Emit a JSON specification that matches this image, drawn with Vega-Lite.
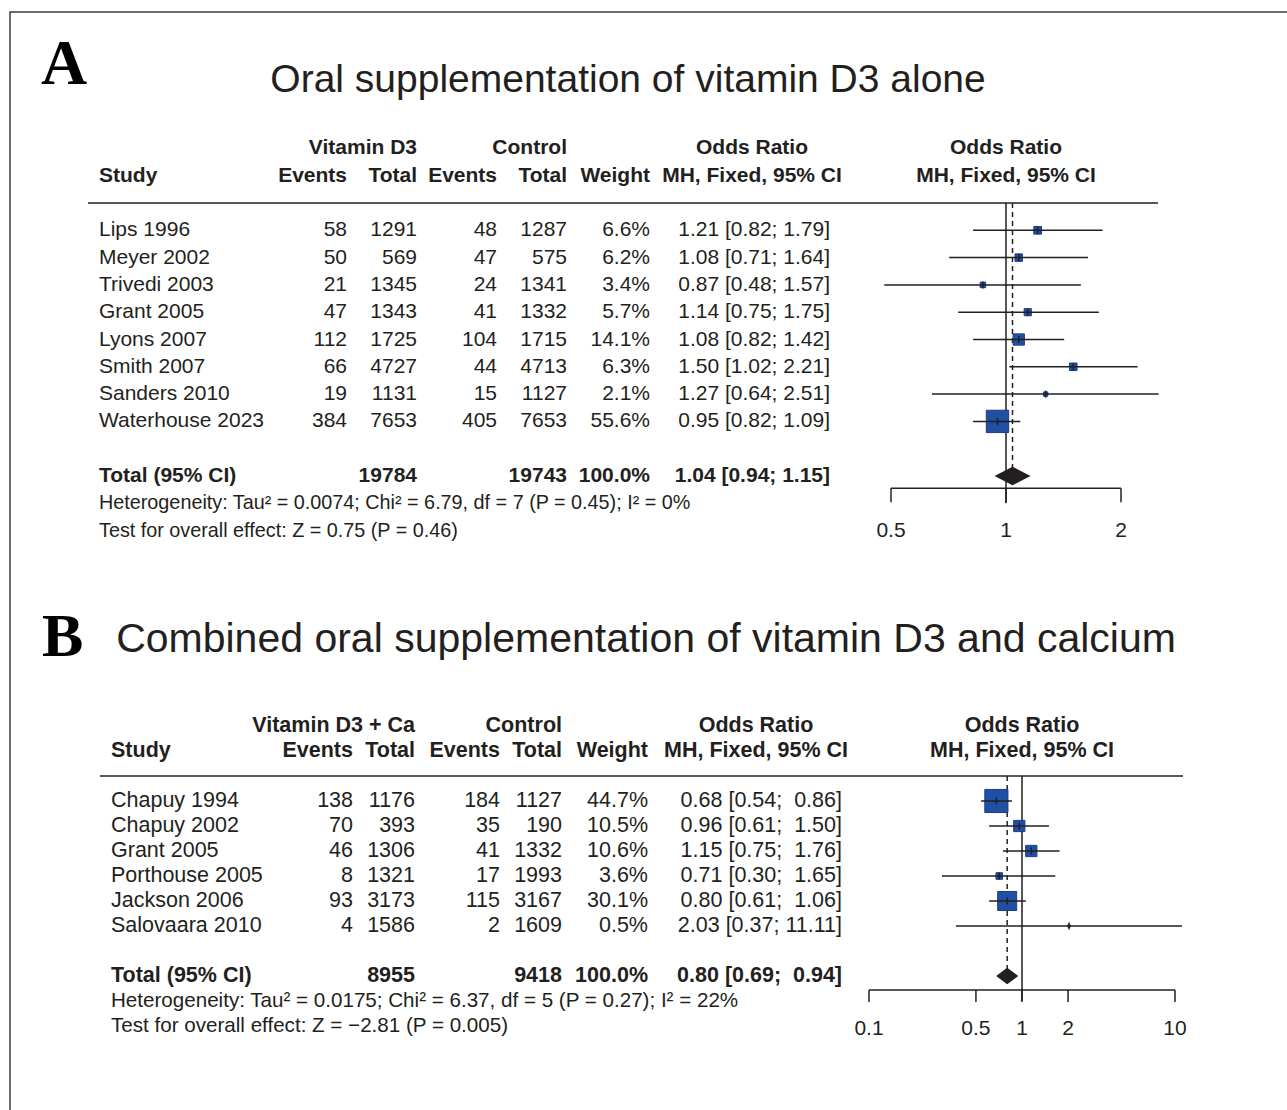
{
"$schema":"https://vega.github.io/schema/vega-lite/v6.json",
"width":1281,"height":1102,"autosize":"none",
"padding":{"left":10,"top":12,"right":-4,"bottom":-4},
"background":"#ffffff",
"config":{"view":{"stroke":"#3c3c3c","strokeWidth":1.5},"text":{"font":"Liberation Sans","color":"#231f20"}},
"datasets":{
"tableA":[
{"row":"h1","type":"group","n1":"Vitamin D3","n2":"Control","orh":"Odds Ratio"},
{"row":"Study","type":"head","e1":"Events","n1":"Total","e2":"Events","n2":"Total","wt":"Weight","orh":"MH, Fixed, 95% CI"},
{"row":"Lips 1996","type":"study","e1":58,"n1":1291,"e2":48,"n2":1287,"wt":"6.6%","ci":"1.21 [0.82; 1.79]","w":6.6,"or":1.21,"lo":0.82,"hi":1.79},
{"row":"Meyer 2002","type":"study","e1":50,"n1":569,"e2":47,"n2":575,"wt":"6.2%","ci":"1.08 [0.71; 1.64]","w":6.2,"or":1.08,"lo":0.71,"hi":1.64},
{"row":"Trivedi 2003","type":"study","e1":21,"n1":1345,"e2":24,"n2":1341,"wt":"3.4%","ci":"0.87 [0.48; 1.57]","w":3.4,"or":0.87,"lo":0.48,"hi":1.57},
{"row":"Grant 2005","type":"study","e1":47,"n1":1343,"e2":41,"n2":1332,"wt":"5.7%","ci":"1.14 [0.75; 1.75]","w":5.7,"or":1.14,"lo":0.75,"hi":1.75},
{"row":"Lyons 2007","type":"study","e1":112,"n1":1725,"e2":104,"n2":1715,"wt":"14.1%","ci":"1.08 [0.82; 1.42]","w":14.1,"or":1.08,"lo":0.82,"hi":1.42},
{"row":"Smith 2007","type":"study","e1":66,"n1":4727,"e2":44,"n2":4713,"wt":"6.3%","ci":"1.50 [1.02; 2.21]","w":6.3,"or":1.5,"lo":1.02,"hi":2.21},
{"row":"Sanders 2010","type":"study","e1":19,"n1":1131,"e2":15,"n2":1127,"wt":"2.1%","ci":"1.27 [0.64; 2.51]","w":2.1,"or":1.27,"lo":0.64,"hi":2.51},
{"row":"Waterhouse 2023","type":"study","e1":384,"n1":7653,"e2":405,"n2":7653,"wt":"55.6%","ci":"0.95 [0.82; 1.09]","w":55.6,"or":0.95,"lo":0.82,"hi":1.09},
{"row":"Total (95% CI)","type":"total","n1":19784,"n2":19743,"wt":"100.0%","ci":"1.04 [0.94; 1.15]","w":100,"or":1.04,"lo":0.94,"hi":1.15}
],
"notesA":[
{"row":"het","text":"Heterogeneity: Tau² = 0.0074; Chi² = 6.79, df = 7 (P = 0.45); I² = 0%"},
{"row":"test","text":"Test for overall effect: Z = 0.75 (P = 0.46)"}
],
"refA":[
{"ref":"no effect","row":"sep","or":1},{"ref":"no effect","row":"het","or":1},
{"ref":"pooled","row":"sep","or":1.04},{"ref":"pooled","row":"Total (95% CI)","or":1.04}
],
"ticksA":[{"v":0.5},{"v":1},{"v":2}],
"titleA":[{"row":"title","letter":"A","title":"Oral supplementation of vitamin D3 alone"}],
"tableB":[
{"row":"h1","type":"group","n1":"Vitamin D3 + Ca","n2":"Control","orh":"Odds Ratio"},
{"row":"Study","type":"head","e1":"Events","n1":"Total","e2":"Events","n2":"Total","wt":"Weight","orh":"MH, Fixed, 95% CI"},
{"row":"Chapuy 1994","type":"study","e1":138,"n1":1176,"e2":184,"n2":1127,"wt":"44.7%","ci":"0.68 [0.54; \u00a00.86]","w":44.7,"or":0.68,"lo":0.54,"hi":0.86},
{"row":"Chapuy 2002","type":"study","e1":70,"n1":393,"e2":35,"n2":190,"wt":"10.5%","ci":"0.96 [0.61; \u00a01.50]","w":10.5,"or":0.96,"lo":0.61,"hi":1.5},
{"row":"Grant 2005","type":"study","e1":46,"n1":1306,"e2":41,"n2":1332,"wt":"10.6%","ci":"1.15 [0.75; \u00a01.76]","w":10.6,"or":1.15,"lo":0.75,"hi":1.76},
{"row":"Porthouse 2005","type":"study","e1":8,"n1":1321,"e2":17,"n2":1993,"wt":"3.6%","ci":"0.71 [0.30; \u00a01.65]","w":3.6,"or":0.71,"lo":0.3,"hi":1.65},
{"row":"Jackson 2006","type":"study","e1":93,"n1":3173,"e2":115,"n2":3167,"wt":"30.1%","ci":"0.80 [0.61; \u00a01.06]","w":30.1,"or":0.8,"lo":0.61,"hi":1.06},
{"row":"Salovaara 2010","type":"study","e1":4,"n1":1586,"e2":2,"n2":1609,"wt":"0.5%","ci":"2.03 [0.37; 11.11]","w":0.5,"or":2.03,"lo":0.37,"hi":11.11},
{"row":"Total (95% CI)","type":"total","n1":8955,"n2":9418,"wt":"100.0%","ci":"0.80 [0.69; \u00a00.94]","w":100,"or":0.8,"lo":0.69,"hi":0.94}
],
"notesB":[
{"row":"het","text":"Heterogeneity: Tau² = 0.0175; Chi² = 6.37, df = 5 (P = 0.27); I² = 22%"},
{"row":"test","text":"Test for overall effect: Z = −2.81 (P = 0.005)"}
],
"refB":[
{"ref":"no effect","row":"sep","or":1},{"ref":"no effect","row":"het","or":1},
{"ref":"pooled","row":"sep","or":0.8},{"ref":"pooled","row":"Total (95% CI)","or":0.8}
],
"ticksB":[{"v":0.1},{"v":0.5},{"v":1},{"v":2},{"v":10}],
"titleB":[{"row":"title","letter":"B","title":"Combined oral supplementation of vitamin D3 and calcium"}]
},
"layer":[
{
"encoding":{"y":{"field":"row","type":"nominal","axis":null,"scale":{"type":"point","padding":0,"range":[81.8,518.6],"domain":["title","gap","h1","Study","sep","Lips 1996","Meyer 2002","Trivedi 2003","Grant 2005","Lyons 2007","Smith 2007","Sanders 2010","Waterhouse 2023","blank","Total (95% CI)","het","test"]}}},
"layer":[
{"layer":[
{"data":{"name":"titleA"},"mark":{"type":"text","align":"left","baseline":"alphabetic","font":"Liberation Serif","fontWeight":"bold","fontSize":64,"dy":-9.8,"color":"#000000"},
 "encoding":{"x":{"datum":31,"type":"quantitative","axis":null,"scale":{"type":"linear","domain":[0,1277],"range":[0,1277],"nice":false,"zero":false}},"text":{"field":"letter","type":"nominal"}}},
{"data":{"name":"titleA"},"mark":{"type":"text","align":"center","baseline":"alphabetic","fontSize":39,"dy":-1.8},
 "encoding":{"x":{"datum":618,"type":"quantitative","axis":null,"scale":{"type":"linear","domain":[0,1277],"range":[0,1277],"nice":false,"zero":false}},"text":{"field":"title","type":"nominal"}}},
{"data":{"name":"tableA"},"transform":[{"filter":"datum.type !== 'group'"}],"mark":{"type":"text","align":"left","baseline":"middle","fontSize":21,"fontWeight":{"expr":"datum.type === 'study' ? 'normal' : 'bold'"}},
 "encoding":{"x":{"datum":89,"type":"quantitative","axis":null,"scale":{"type":"linear","domain":[0,1277],"range":[0,1277],"nice":false,"zero":false}},"text":{"field":"row","type":"nominal"}}},
{"data":{"name":"tableA"},"transform":[{"filter":"isValid(datum.e1)"}],"mark":{"type":"text","align":"right","baseline":"middle","fontSize":21,"fontWeight":{"expr":"datum.type === 'study' ? 'normal' : 'bold'"}},
 "encoding":{"x":{"datum":337,"type":"quantitative","axis":null,"scale":{"type":"linear","domain":[0,1277],"range":[0,1277],"nice":false,"zero":false}},"text":{"field":"e1","type":"nominal"}}},
{"data":{"name":"tableA"},"transform":[{"filter":"isValid(datum.n1)"}],"mark":{"type":"text","align":"right","baseline":"middle","fontSize":21,"fontWeight":{"expr":"datum.type === 'study' ? 'normal' : 'bold'"}},
 "encoding":{"x":{"datum":407,"type":"quantitative","axis":null,"scale":{"type":"linear","domain":[0,1277],"range":[0,1277],"nice":false,"zero":false}},"text":{"field":"n1","type":"nominal"}}},
{"data":{"name":"tableA"},"transform":[{"filter":"isValid(datum.e2)"}],"mark":{"type":"text","align":"right","baseline":"middle","fontSize":21,"fontWeight":{"expr":"datum.type === 'study' ? 'normal' : 'bold'"}},
 "encoding":{"x":{"datum":487,"type":"quantitative","axis":null,"scale":{"type":"linear","domain":[0,1277],"range":[0,1277],"nice":false,"zero":false}},"text":{"field":"e2","type":"nominal"}}},
{"data":{"name":"tableA"},"transform":[{"filter":"isValid(datum.n2)"}],"mark":{"type":"text","align":"right","baseline":"middle","fontSize":21,"fontWeight":{"expr":"datum.type === 'study' ? 'normal' : 'bold'"}},
 "encoding":{"x":{"datum":557,"type":"quantitative","axis":null,"scale":{"type":"linear","domain":[0,1277],"range":[0,1277],"nice":false,"zero":false}},"text":{"field":"n2","type":"nominal"}}},
{"data":{"name":"tableA"},"transform":[{"filter":"isValid(datum.wt)"}],"mark":{"type":"text","align":"right","baseline":"middle","fontSize":21,"fontWeight":{"expr":"datum.type === 'study' ? 'normal' : 'bold'"}},
 "encoding":{"x":{"datum":640,"type":"quantitative","axis":null,"scale":{"type":"linear","domain":[0,1277],"range":[0,1277],"nice":false,"zero":false}},"text":{"field":"wt","type":"nominal"}}},
{"data":{"name":"tableA"},"transform":[{"filter":"isValid(datum.ci)"}],"mark":{"type":"text","align":"right","baseline":"middle","fontSize":21,"fontWeight":{"expr":"datum.type === 'study' ? 'normal' : 'bold'"}},
 "encoding":{"x":{"datum":820,"type":"quantitative","axis":null,"scale":{"type":"linear","domain":[0,1277],"range":[0,1277],"nice":false,"zero":false}},"text":{"field":"ci","type":"nominal"}}},
{"data":{"name":"tableA"},"transform":[{"filter":"isValid(datum.orh)"}],"mark":{"type":"text","align":"center","baseline":"middle","fontSize":21,"fontWeight":"bold"},
 "encoding":{"x":{"datum":742,"type":"quantitative","axis":null,"scale":{"type":"linear","domain":[0,1277],"range":[0,1277],"nice":false,"zero":false}},"text":{"field":"orh","type":"nominal"}}},
{"data":{"name":"notesA"},"mark":{"type":"text","align":"left","baseline":"middle","fontSize":19.8},
 "encoding":{"x":{"datum":89,"type":"quantitative","axis":null,"scale":{"type":"linear","domain":[0,1277],"range":[0,1277],"nice":false,"zero":false}},"text":{"field":"text","type":"nominal"}}},
{"data":{"values":[{}]},"mark":{"type":"rule","color":"#231f20","strokeWidth":1.5},
 "encoding":{"x":{"datum":78,"type":"quantitative","axis":null,"scale":{"type":"linear","domain":[0,1277],"range":[0,1277],"nice":false,"zero":false}},"x2":{"datum":1148},"y":{"datum":"sep","axis":null}}}
]},
{"layer":[
{"data":{"name":"refA"},"mark":{"type":"line","color":"#231f20","strokeWidth":1.5},
 "encoding":{"x":{"field":"or","type":"quantitative","axis":null,"scale":{"type":"log","domain":[0.5,2],"range":[881,1111],"nice":false}},"strokeDash":{"field":"ref","type":"nominal","legend":null,"scale":{"domain":["no effect","pooled"],"range":[[1,0],[5,4]]}}}},
{"data":{"name":"tableA"},"transform":[{"filter":"datum.type === 'study'"}],"mark":{"type":"point","shape":"square","filled":true,"fill":"#1f50a3","stroke":"#1b3d85","strokeWidth":1,"opacity":1},
 "encoding":{"x":{"field":"or","type":"quantitative","axis":null,"scale":{"type":"log","domain":[0.5,2],"range":[881,1111],"nice":false}},"size":{"field":"w","type":"quantitative","legend":null,"scale":{"type":"linear","domain":[0,55.6],"range":[0,500],"zero":true,"nice":false}}}},
{"data":{"name":"tableA"},"transform":[{"filter":"datum.type === 'study'"}],"mark":{"type":"rule","color":"#231f20","strokeWidth":1.5},
 "encoding":{"x":{"field":"lo","type":"quantitative","axis":null,"scale":{"type":"log","domain":[0.5,2],"range":[881,1111],"nice":false}},"x2":{"field":"hi"}}},
{"data":{"name":"tableA"},"transform":[{"filter":"datum.type === 'study'"}],"mark":{"type":"tick","orient":"vertical","size":7,"thickness":1.5,"color":"#231f20","opacity":1},
 "encoding":{"x":{"field":"or","type":"quantitative","axis":null,"scale":{"type":"log","domain":[0.5,2],"range":[881,1111],"nice":false}}}},
{"data":{"name":"tableA"},"transform":[{"filter":"datum.type === 'total'"}],"mark":{"type":"point","shape":"M-1,0L0,-0.51L1,0L0,0.51Z","filled":true,"color":"#231f20","opacity":1,"size":1296},
 "encoding":{"x":{"field":"or","type":"quantitative","axis":null,"scale":{"type":"log","domain":[0.5,2],"range":[881,1111],"nice":false}}}},
{"data":{"name":"ticksA"},"mark":{"type":"rule","color":"#231f20","strokeWidth":1.5,"yOffset":-15},
 "encoding":{"x":{"aggregate":"min","field":"v","type":"quantitative","axis":null,"scale":{"type":"log","domain":[0.5,2],"range":[881,1111],"nice":false}},"x2":{"aggregate":"max","field":"v"},"y":{"datum":"het","axis":null}}},
{"data":{"name":"ticksA"},"mark":{"type":"tick","orient":"vertical","size":14,"thickness":1.5,"color":"#231f20","opacity":1,"yOffset":-8},
 "encoding":{"x":{"field":"v","type":"quantitative","axis":null,"scale":{"type":"log","domain":[0.5,2],"range":[881,1111],"nice":false}},"y":{"datum":"het","axis":null}}},
{"data":{"name":"ticksA"},"mark":{"type":"text","align":"center","baseline":"middle","fontSize":21},
 "encoding":{"x":{"field":"v","type":"quantitative","axis":null,"scale":{"type":"log","domain":[0.5,2],"range":[881,1111],"nice":false}},"y":{"datum":"test","axis":null},"text":{"field":"v","type":"quantitative","format":"~g"}}},
{"data":{"name":"tableA"},"transform":[{"filter":"isValid(datum.orh)"}],"mark":{"type":"text","align":"center","baseline":"middle","fontSize":21,"fontWeight":"bold"},
 "encoding":{"x":{"datum":1,"type":"quantitative","axis":null,"scale":{"type":"log","domain":[0.5,2],"range":[881,1111],"nice":false}},"text":{"field":"orh","type":"nominal"}}}
]}
],
"resolve":{"scale":{"x":"independent"}}
},
{
"encoding":{"y":{"field":"row","type":"nominal","axis":null,"scale":{"type":"point","padding":0,"range":[639,1014],"domain":["title","gap1","gap2","h1","Study","sep","Chapuy 1994","Chapuy 2002","Grant 2005","Porthouse 2005","Jackson 2006","Salovaara 2010","blank","Total (95% CI)","het","test"]}}},
"layer":[
{"layer":[
{"data":{"name":"titleB"},"mark":{"type":"text","align":"left","baseline":"alphabetic","font":"Liberation Serif","fontWeight":"bold","fontSize":62,"dy":5,"color":"#000000"},
 "encoding":{"x":{"datum":32,"type":"quantitative","axis":null,"scale":{"type":"linear","domain":[0,1277],"range":[0,1277],"nice":false,"zero":false}},"text":{"field":"letter","type":"nominal"}}},
{"data":{"name":"titleB"},"mark":{"type":"text","align":"center","baseline":"alphabetic","fontSize":41,"dy":1},
 "encoding":{"x":{"datum":636,"type":"quantitative","axis":null,"scale":{"type":"linear","domain":[0,1277],"range":[0,1277],"nice":false,"zero":false}},"text":{"field":"title","type":"nominal"}}},
{"data":{"name":"tableB"},"transform":[{"filter":"datum.type !== 'group'"}],"mark":{"type":"text","align":"left","baseline":"middle","fontSize":21.5,"fontWeight":{"expr":"datum.type === 'study' ? 'normal' : 'bold'"}},
 "encoding":{"x":{"datum":101,"type":"quantitative","axis":null,"scale":{"type":"linear","domain":[0,1277],"range":[0,1277],"nice":false,"zero":false}},"text":{"field":"row","type":"nominal"}}},
{"data":{"name":"tableB"},"transform":[{"filter":"isValid(datum.e1)"}],"mark":{"type":"text","align":"right","baseline":"middle","fontSize":21.5,"fontWeight":{"expr":"datum.type === 'study' ? 'normal' : 'bold'"}},
 "encoding":{"x":{"datum":343,"type":"quantitative","axis":null,"scale":{"type":"linear","domain":[0,1277],"range":[0,1277],"nice":false,"zero":false}},"text":{"field":"e1","type":"nominal"}}},
{"data":{"name":"tableB"},"transform":[{"filter":"isValid(datum.n1)"}],"mark":{"type":"text","align":"right","baseline":"middle","fontSize":21.5,"fontWeight":{"expr":"datum.type === 'study' ? 'normal' : 'bold'"}},
 "encoding":{"x":{"datum":405,"type":"quantitative","axis":null,"scale":{"type":"linear","domain":[0,1277],"range":[0,1277],"nice":false,"zero":false}},"text":{"field":"n1","type":"nominal"}}},
{"data":{"name":"tableB"},"transform":[{"filter":"isValid(datum.e2)"}],"mark":{"type":"text","align":"right","baseline":"middle","fontSize":21.5,"fontWeight":{"expr":"datum.type === 'study' ? 'normal' : 'bold'"}},
 "encoding":{"x":{"datum":490,"type":"quantitative","axis":null,"scale":{"type":"linear","domain":[0,1277],"range":[0,1277],"nice":false,"zero":false}},"text":{"field":"e2","type":"nominal"}}},
{"data":{"name":"tableB"},"transform":[{"filter":"isValid(datum.n2)"}],"mark":{"type":"text","align":"right","baseline":"middle","fontSize":21.5,"fontWeight":{"expr":"datum.type === 'study' ? 'normal' : 'bold'"}},
 "encoding":{"x":{"datum":552,"type":"quantitative","axis":null,"scale":{"type":"linear","domain":[0,1277],"range":[0,1277],"nice":false,"zero":false}},"text":{"field":"n2","type":"nominal"}}},
{"data":{"name":"tableB"},"transform":[{"filter":"isValid(datum.wt)"}],"mark":{"type":"text","align":"right","baseline":"middle","fontSize":21.5,"fontWeight":{"expr":"datum.type === 'study' ? 'normal' : 'bold'"}},
 "encoding":{"x":{"datum":638,"type":"quantitative","axis":null,"scale":{"type":"linear","domain":[0,1277],"range":[0,1277],"nice":false,"zero":false}},"text":{"field":"wt","type":"nominal"}}},
{"data":{"name":"tableB"},"transform":[{"filter":"isValid(datum.ci)"}],"mark":{"type":"text","align":"right","baseline":"middle","fontSize":21.5,"fontWeight":{"expr":"datum.type === 'study' ? 'normal' : 'bold'"}},
 "encoding":{"x":{"datum":832,"type":"quantitative","axis":null,"scale":{"type":"linear","domain":[0,1277],"range":[0,1277],"nice":false,"zero":false}},"text":{"field":"ci","type":"nominal"}}},
{"data":{"name":"tableB"},"transform":[{"filter":"isValid(datum.orh)"}],"mark":{"type":"text","align":"center","baseline":"middle","fontSize":21.5,"fontWeight":"bold"},
 "encoding":{"x":{"datum":746,"type":"quantitative","axis":null,"scale":{"type":"linear","domain":[0,1277],"range":[0,1277],"nice":false,"zero":false}},"text":{"field":"orh","type":"nominal"}}},
{"data":{"name":"notesB"},"mark":{"type":"text","align":"left","baseline":"middle","fontSize":20.6},
 "encoding":{"x":{"datum":101,"type":"quantitative","axis":null,"scale":{"type":"linear","domain":[0,1277],"range":[0,1277],"nice":false,"zero":false}},"text":{"field":"text","type":"nominal"}}},
{"data":{"values":[{}]},"mark":{"type":"rule","color":"#231f20","strokeWidth":1.5},
 "encoding":{"x":{"datum":90,"type":"quantitative","axis":null,"scale":{"type":"linear","domain":[0,1277],"range":[0,1277],"nice":false,"zero":false}},"x2":{"datum":1173},"y":{"datum":"sep","axis":null}}}
]},
{"layer":[
{"data":{"name":"refB"},"mark":{"type":"line","color":"#231f20","strokeWidth":1.5},
 "encoding":{"x":{"field":"or","type":"quantitative","axis":null,"scale":{"type":"log","domain":[0.1,10],"range":[859,1165],"nice":false}},"strokeDash":{"field":"ref","type":"nominal","legend":null,"scale":{"domain":["no effect","pooled"],"range":[[1,0],[5,4]]}}}},
{"data":{"name":"tableB"},"transform":[{"filter":"datum.type === 'study'"}],"mark":{"type":"point","shape":"square","filled":true,"fill":"#1f50a3","stroke":"#1b3d85","strokeWidth":1,"opacity":1},
 "encoding":{"x":{"field":"or","type":"quantitative","axis":null,"scale":{"type":"log","domain":[0.1,10],"range":[859,1165],"nice":false}},"size":{"field":"w","type":"quantitative","legend":null,"scale":{"type":"linear","domain":[0,44.7],"range":[0,536],"zero":true,"nice":false}}}},
{"data":{"name":"tableB"},"transform":[{"filter":"datum.type === 'study'"}],"mark":{"type":"rule","color":"#231f20","strokeWidth":1.5},
 "encoding":{"x":{"field":"lo","type":"quantitative","axis":null,"scale":{"type":"log","domain":[0.1,10],"range":[859,1165],"nice":false}},"x2":{"field":"hi"}}},
{"data":{"name":"tableB"},"transform":[{"filter":"datum.type === 'study'"}],"mark":{"type":"tick","orient":"vertical","size":7,"thickness":1.5,"color":"#231f20","opacity":1},
 "encoding":{"x":{"field":"or","type":"quantitative","axis":null,"scale":{"type":"log","domain":[0.1,10],"range":[859,1165],"nice":false}}}},
{"data":{"name":"tableB"},"transform":[{"filter":"datum.type === 'total'"}],"mark":{"type":"point","shape":"M-1,0L0,-0.76L1,0L0,0.76Z","filled":true,"color":"#231f20","opacity":1,"size":484},
 "encoding":{"x":{"field":"or","type":"quantitative","axis":null,"scale":{"type":"log","domain":[0.1,10],"range":[859,1165],"nice":false}}}},
{"data":{"name":"ticksB"},"mark":{"type":"rule","color":"#231f20","strokeWidth":1.5,"yOffset":-11},
 "encoding":{"x":{"aggregate":"min","field":"v","type":"quantitative","axis":null,"scale":{"type":"log","domain":[0.1,10],"range":[859,1165],"nice":false}},"x2":{"aggregate":"max","field":"v"},"y":{"datum":"het","axis":null}}},
{"data":{"name":"ticksB"},"mark":{"type":"tick","orient":"vertical","size":12,"thickness":1.5,"color":"#231f20","opacity":1,"yOffset":-5},
 "encoding":{"x":{"field":"v","type":"quantitative","axis":null,"scale":{"type":"log","domain":[0.1,10],"range":[859,1165],"nice":false}},"y":{"datum":"het","axis":null}}},
{"data":{"name":"ticksB"},"mark":{"type":"text","align":"center","baseline":"middle","fontSize":21,"dy":3},
 "encoding":{"x":{"field":"v","type":"quantitative","axis":null,"scale":{"type":"log","domain":[0.1,10],"range":[859,1165],"nice":false}},"y":{"datum":"test","axis":null},"text":{"field":"v","type":"quantitative","format":"~g"}}},
{"data":{"name":"tableB"},"transform":[{"filter":"isValid(datum.orh)"}],"mark":{"type":"text","align":"center","baseline":"middle","fontSize":21.5,"fontWeight":"bold"},
 "encoding":{"x":{"datum":1,"type":"quantitative","axis":null,"scale":{"type":"log","domain":[0.1,10],"range":[859,1165],"nice":false}},"text":{"field":"orh","type":"nominal"}}}
]}
],
"resolve":{"scale":{"x":"independent"}}
}
],
"resolve":{"scale":{"x":"independent","y":"independent","size":"independent","strokeDash":"independent"}}
}
